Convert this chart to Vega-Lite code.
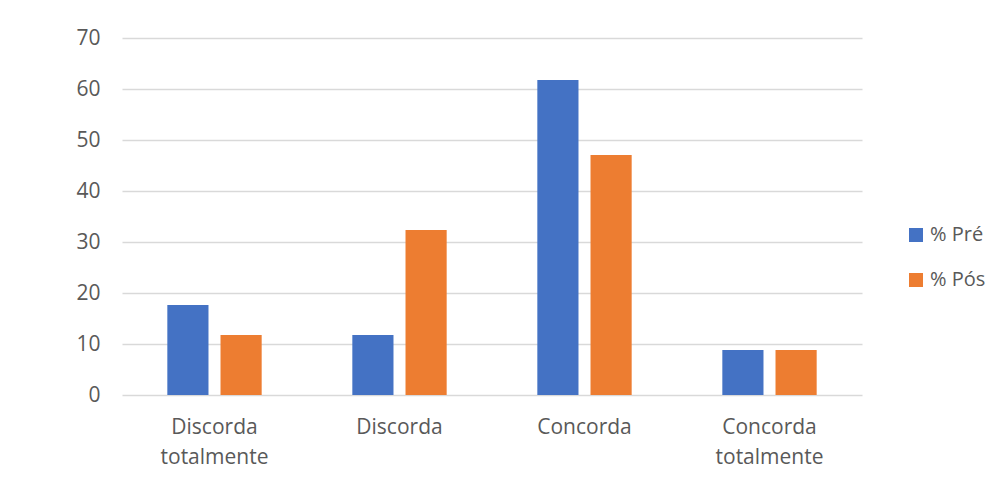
{
  "$schema": "https://vega.github.io/schema/vega-lite/v6.json",
  "width": 740,
  "height": 357,
  "autosize": {"type": "none"},
  "padding": {"left": 122, "top": 38, "right": 141, "bottom": 97},
  "background": "white",
  "data": {
    "values": [
      {"resposta": "Discorda totalmente", "serie": "% Pré", "valor": 17.65},
      {"resposta": "Discorda totalmente", "serie": "% Pós", "valor": 11.76},
      {"resposta": "Discorda", "serie": "% Pré", "valor": 11.76},
      {"resposta": "Discorda", "serie": "% Pós", "valor": 32.35},
      {"resposta": "Concorda", "serie": "% Pré", "valor": 61.76},
      {"resposta": "Concorda", "serie": "% Pós", "valor": 47.06},
      {"resposta": "Concorda totalmente", "serie": "% Pré", "valor": 8.82},
      {"resposta": "Concorda totalmente", "serie": "% Pós", "valor": 8.82}
    ]
  },
  "mark": {"type": "bar"},
  "encoding": {
    "x": {
      "field": "resposta",
      "type": "nominal",
      "sort": ["Discorda totalmente", "Discorda", "Concorda", "Concorda totalmente"],
      "scale": {"paddingInner": 0.49, "paddingOuter": 0.245},
      "axis": {
        "title": null,
        "domain": false,
        "ticks": false,
        "labelAngle": 0,
        "labelExpr": "split(datum.label, ' ')",
        "labelLineHeight": 30,
        "labelPadding": 21,
        "labelFont": "Open Sans",
        "labelFontSize": 21,
        "labelColor": "#595959"
      }
    },
    "xOffset": {
      "field": "serie",
      "type": "nominal",
      "sort": ["% Pré", "% Pós"],
      "scale": {"paddingInner": 0.226, "paddingOuter": 0}
    },
    "y": {
      "field": "valor",
      "type": "quantitative",
      "scale": {"domain": [0, 70], "nice": false},
      "axis": {
        "title": null,
        "values": [0, 10, 20, 30, 40, 50, 60, 70],
        "domain": false,
        "ticks": false,
        "tickSize": 0,
        "labelPadding": 22,
        "labelFont": "Open Sans",
        "labelFontSize": 21,
        "labelColor": "#595959",
        "gridColor": "#d9d9d9",
        "gridWidth": 1.5
      }
    },
    "color": {
      "field": "serie",
      "type": "nominal",
      "sort": ["% Pré", "% Pós"],
      "scale": {"domain": ["% Pré", "% Pós"], "range": ["#4472C4", "#ED7D31"]},
      "legend": {
        "title": null,
        "orient": "none",
        "legendX": 784,
        "legendY": 187,
        "symbolType": "square",
        "symbolSize": 196,
        "symbolStrokeWidth": 0,
        "symbolOpacity": 1,
        "labelFont": "Open Sans",
        "labelFontSize": 20,
        "labelColor": "#595959",
        "labelOffset": 4,
        "rowPadding": 25
      }
    }
  },
  "config": {
    "view": {"stroke": null}
  }
}
